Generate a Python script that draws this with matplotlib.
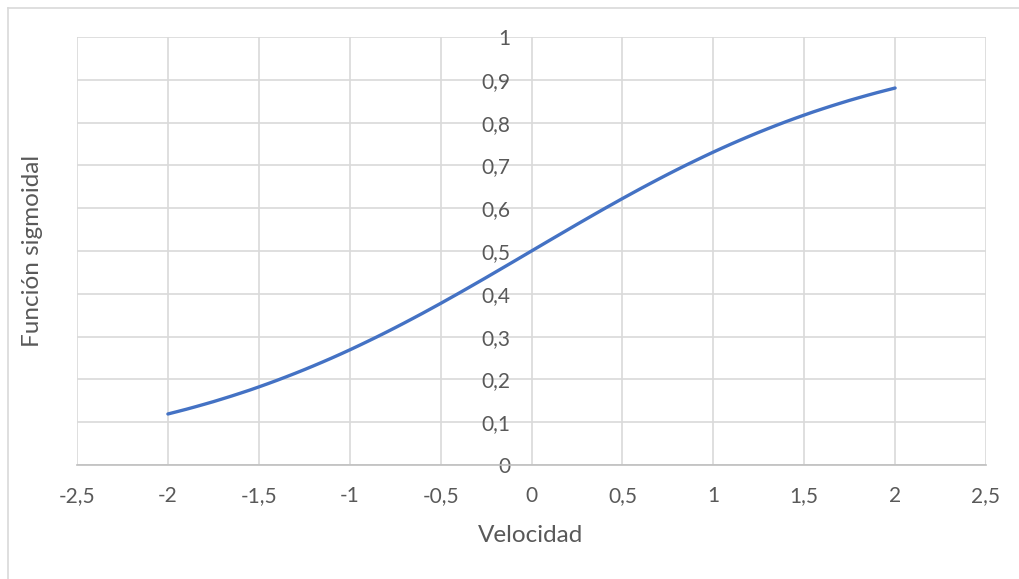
import matplotlib
matplotlib.use("Agg")
import matplotlib.pyplot as plt
from matplotlib.ticker import FuncFormatter, MultipleLocator
from matplotlib.lines import Line2D

velocidad = [-2.00, -1.95, -1.90, -1.85, -1.80, -1.75, -1.70, -1.65, -1.60, -1.55,
             -1.50, -1.45, -1.40, -1.35, -1.30, -1.25, -1.20, -1.15, -1.10, -1.05,
             -1.00, -0.95, -0.90, -0.85, -0.80, -0.75, -0.70, -0.65, -0.60, -0.55,
             -0.50, -0.45, -0.40, -0.35, -0.30, -0.25, -0.20, -0.15, -0.10, -0.05,
             0.00, 0.05, 0.10, 0.15, 0.20, 0.25, 0.30, 0.35, 0.40, 0.45,
             0.50, 0.55, 0.60, 0.65, 0.70, 0.75, 0.80, 0.85, 0.90, 0.95,
             1.00, 1.05, 1.10, 1.15, 1.20, 1.25, 1.30, 1.35, 1.40, 1.45,
             1.50, 1.55, 1.60, 1.65, 1.70, 1.75, 1.80, 1.85, 1.90, 1.95, 2.00]
sigmoidal = [0.1192, 0.1246, 0.1301, 0.1359, 0.1419, 0.1480, 0.1545, 0.1611, 0.1680, 0.1750,
             0.1824, 0.1900, 0.1978, 0.2059, 0.2142, 0.2227, 0.2315, 0.2405, 0.2497, 0.2592,
             0.2689, 0.2789, 0.2891, 0.2994, 0.3100, 0.3208, 0.3318, 0.3430, 0.3543, 0.3659,
             0.3775, 0.3894, 0.4013, 0.4134, 0.4256, 0.4378, 0.4502, 0.4626, 0.4750, 0.4875,
             0.5000, 0.5125, 0.5250, 0.5374, 0.5498, 0.5622, 0.5744, 0.5866, 0.5987, 0.6106,
             0.6225, 0.6341, 0.6457, 0.6570, 0.6682, 0.6792, 0.6900, 0.7006, 0.7109, 0.7211,
             0.7311, 0.7408, 0.7503, 0.7595, 0.7685, 0.7773, 0.7858, 0.7941, 0.8022, 0.8100,
             0.8176, 0.8250, 0.8320, 0.8389, 0.8455, 0.8520, 0.8581, 0.8641, 0.8699, 0.8754, 0.8808]

x_label = "Velocidad"
y_label = "Función sigmoidal"

plt.rcParams['font.family'] = ['Lato', 'DejaVu Sans']
text_color = '#595959'
grid_color = '#d9d9d9'

fig = plt.figure(figsize=(10.19, 5.79), dpi=100)
ax = fig.add_axes([77/1019, 1 - 465/579, (986-77)/1019, (465-37)/579])

ax.plot(velocidad, sigmoidal, color='#4472C4', linewidth=2.4,
        solid_capstyle='round', solid_joinstyle='round', zorder=3)

ax.set_xlim(-2.5, 2.5)
ax.set_ylim(0, 1)
ax.xaxis.set_major_locator(MultipleLocator(0.5))
ax.yaxis.set_major_locator(MultipleLocator(0.1))

def fmt(v, pos):
    s = ('%.1f' % v).rstrip('0').rstrip('.')
    if s == '-0':
        s = '0'
    return s.replace('.', ',')

ax.xaxis.set_major_formatter(FuncFormatter(fmt))
ax.yaxis.set_major_formatter(FuncFormatter(fmt))

ax.grid(True, color=grid_color, linewidth=1.2, zorder=0)
ax.set_axisbelow(True)

for s in ['top', 'right']:
    ax.spines[s].set_visible(False)
ax.spines['left'].set_position(('data', 0))
ax.spines['left'].set_visible(False)
ax.spines['bottom'].set_color('#bfbfbf')
ax.spines['bottom'].set_linewidth(1.2)

ax.tick_params(axis='both', length=0, labelsize=15, labelcolor=text_color)
ax.tick_params(axis='x', pad=15)
ax.tick_params(axis='y', pad=15)

fig.text(531/1019, 1 - 536/579, x_label, ha='center', va='center', fontsize=17.5, color=text_color)
fig.text(33/1019, 1 - 251/579, y_label, ha='center', va='center', rotation=90, fontsize=17.5, color=text_color)

# outer chart border (left and top visible)
fig.add_artist(Line2D([7.5/1019, 7.5/1019], [0, 1 - 8/579], transform=fig.transFigure, color=grid_color, linewidth=1.2))
fig.add_artist(Line2D([7.5/1019, 1], [1 - 8/579, 1 - 8/579], transform=fig.transFigure, color=grid_color, linewidth=1.2))

fig.savefig('out.png', dpi=100, facecolor='white')
